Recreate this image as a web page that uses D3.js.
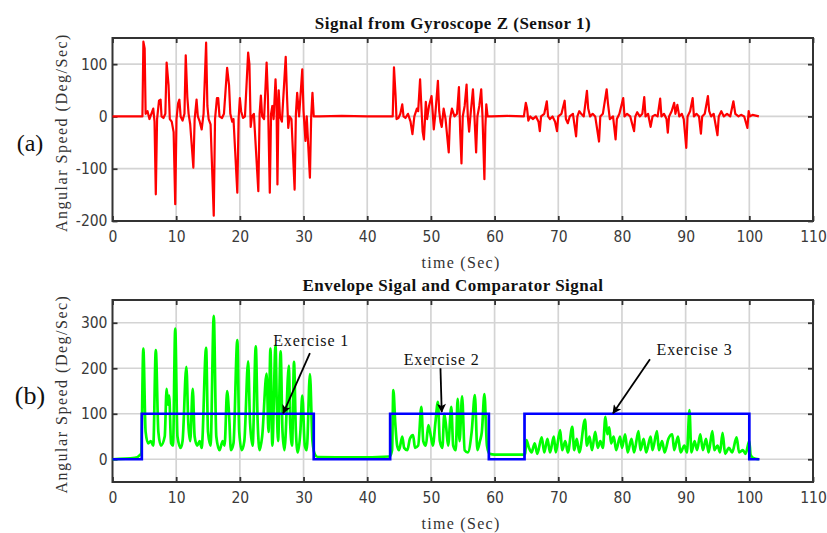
<!DOCTYPE html>
<html>
<head>
<meta charset="utf-8">
<script src="https://cdn.jsdelivr.net/npm/d3@7"></script>
<style>
  body { margin: 0; background: #fff; }
  svg { display: block; }
</style>
</head>
<body>
<svg id="chart" width="827" height="533"></svg>
<script>
// ---- data ---------------------------------------------------------------
const xTicks = [0, 10, 20, 30, 40, 50, 60, 70, 80, 90, 100, 110];
const gyroYTicks = [-200, -100, 0, 100];
const envYTicks = [0, 100, 200, 300];

// Gyroscope Z, sensor 1: [time (s), angular speed (deg/s)]
const gyroExercise1 = [
  [0,0],[4.7,0],[4.85,143],[5.05,130],[5.2,5],[5.5,10],[5.8,-5],[6.1,5],[6.4,15],[6.6,-10],
  [6.8,-149],[7.0,-5],[7.3,30],[7.55,32],[7.7,0],[8.0,-3],[8.3,5],[8.5,103],[8.8,60],[9.0,-5],
  [9.3,-10],[9.6,-30],[9.85,-168],[10.05,-5],[10.3,25],[10.5,32],[10.7,0],[11.0,-8],[11.3,5],
  [11.5,117],[11.75,37],[11.95,5],[12.2,-15],[12.7,-98],[12.9,-5],[13.2,32],[13.4,0],[13.7,-10],
  [14.0,-25],[14.3,5],[14.7,141],[14.9,20],[15.1,-5],[15.4,-15],[15.9,-190],[16.1,-5],[16.4,35],
  [16.6,35],[16.8,0],[17.2,-3],[17.5,5],[18.0,93],[18.3,60],[18.5,5],[18.8,-10],[19.0,-5],
  [19.6,-146],[19.8,-5],[20.0,35],[20.2,10],[20.5,-3],[20.8,0],[21.3,122],[21.5,100],[21.7,-20],
  [21.9,0],[22.2,5],[22.9,-143],[23.1,5],[23.3,40],[23.5,0],[23.8,-5],[24.2,103],[24.4,40],
  [24.7,-146],[24.9,5],[25.1,20],[25.3,-5],[25.6,71],[25.75,30],[25.9,-130],[26.1,50],[26.3,0],
  [26.6,-10],[27.2,114],[27.4,40],[27.6,-22],[27.8,0],[28.1,-5],[28.6,-140],[28.8,5],[29.0,45],
  [29.3,0],[29.8,90],[30.0,10],[30.3,-47],[30.5,0],[31.0,-117],[31.2,0],[31.4,45],[31.6,0],
  [32.5,0],[36,1],[40,0],[44.0,0]
];
const gyroExercise2 = [
  [44.0,0],[44.2,94],[44.45,40],[44.6,-5],[44.9,-3],[45.2,5],[45.5,23],[45.7,0],[46.0,-3],
  [46.4,5],[46.8,-10],[47.1,-34],[47.4,0],[47.8,15],[48.0,10],[48.3,71],[48.5,20],[48.7,-29],
  [48.9,-44],[49.05,-10],[49.2,28],[49.4,-5],[49.7,20],[50.1,39],[50.3,5],[50.45,-25],[50.7,5],
  [51.1,68],[51.3,10],[51.5,-10],[51.7,-20],[52.0,15],[52.3,-5],[52.8,-69],[53.0,-5],[53.3,15],
  [53.7,0],[54.1,5],[54.4,56],[54.6,-30],[54.8,-90],[55.0,0],[55.3,20],[55.6,61],[55.8,0],
  [56.0,-29],[56.2,0],[56.6,52],[56.8,10],[57.1,-69],[57.3,0],[57.6,20],[57.9,52],[58.1,0],
  [58.4,-120],[58.55,-20],[58.7,23],[58.9,0],[59.5,0],[62,1],[64.6,0]
];
const gyroExercise3 = [
  [64.6,0],[64.9,26],[65.1,15],[65.3,-8],[65.6,0],[66.0,-5],[66.5,0],[66.9,-10],[67.1,-28],
  [67.3,0],[67.8,5],[68.2,29],[68.4,0],[68.7,-5],[69.1,0],[69.5,-10],[69.8,-28],[70.0,0],
  [70.5,5],[71.0,30],[71.2,-5],[71.5,-13],[71.8,0],[72.3,5],[72.8,-38],[73.0,0],[73.3,10],
  [73.6,5],[74.0,0],[74.5,49],[74.7,15],[75.0,0],[75.4,5],[75.8,0],[76.4,-48],[76.6,0],[77.0,5],
  [77.6,52],[77.8,25],[78.1,-5],[78.6,0],[79.0,-44],[79.2,-5],[79.6,5],[80.2,35],[80.4,0],
  [80.8,5],[81.3,0],[81.9,-28],[82.1,0],[82.4,8],[82.8,0],[83.2,5],[83.5,37],[83.7,0],[84.1,5],
  [84.5,-20],[84.8,0],[85.2,3],[85.6,0],[86.0,34],[86.2,0],[86.6,5],[87.0,-5],[87.2,-31],
  [87.4,0],[87.8,10],[88.2,26],[88.4,5],[88.7,22],[89.0,0],[89.4,5],[89.7,-5],[90.1,-60],
  [90.3,0],[90.7,10],[91.1,35],[91.3,0],[91.7,5],[92.1,0],[92.4,-33],[92.6,0],[93.0,5],
  [93.5,39],[93.7,10],[94.0,0],[94.4,5],[95.0,-36],[95.2,0],[95.6,10],[96.0,0],[96.5,5],
  [97.0,0],[97.5,29],[97.8,5],[98.3,0],[98.7,3],[99.2,0],[99.7,-22],[99.9,10],[100.1,0],
  [100.5,3],[101.5,0]
];

// Envelope of the rectified signal: [time (s), deg/s]
const envelopeExercise1 = [
  [0,0],[3.5,3],[4.5,12],[4.84,243],[5.2,60],[5.6,35],[6.0,40],[6.4,30],[6.8,240],[7.2,60],
  [7.6,30],[8.2,50],[8.5,155],[8.7,120],[8.9,140],[9.2,35],[9.5,30],[9.85,287],[10.2,50],
  [10.7,25],[11.0,40],[11.6,203],[11.9,80],[12.2,40],[12.6,155],[12.9,50],[13.3,30],[13.7,40],
  [14.0,25],[14.7,245],[15.0,60],[15.4,30],[15.9,315],[16.3,50],[16.8,20],[17.3,40],[17.6,30],
  [18.0,150],[18.3,100],[18.6,20],[19.0,35],[19.6,262],[19.9,60],[20.3,20],[20.7,40],[21.3,215],
  [21.6,80],[22.0,30],[22.5,248],[22.8,80],[23.1,20],[23.5,50],[24.2,188],[24.5,60],[24.8,243],
  [25.1,30],[25.6,250],[25.8,120],[26.0,40],[26.4,237],[26.7,60],[27.0,20],[27.7,206],[27.9,80],
  [28.2,30],[28.5,214],[28.8,60],[29.1,15],[29.5,60],[29.8,140],[30.2,30],[30.5,20],[31.0,187],
  [31.4,40],[31.8,10],[32.2,5],[38,4],[43.5,6]
];
const envelopeExercise2 = [
  [43.5,6],[43.9,20],[44.1,152],[44.4,80],[44.7,30],[45.0,20],[45.5,50],[45.8,25],[46.3,20],
  [46.7,45],[47.2,53],[47.5,25],[48.0,30],[48.5,115],[48.8,40],[49.2,30],[49.6,75],[50.0,50],
  [50.3,30],[50.7,80],[51.1,126],[51.4,40],[51.8,25],[52.1,100],[52.4,70],[52.7,30],[53.2,115],
  [53.5,30],[53.9,20],[54.2,133],[54.5,40],[54.9,138],[55.3,20],[55.8,15],[56.4,60],[56.9,141],
  [57.3,20],[57.7,40],[58.0,60],[58.4,143],[58.8,30],[59.2,12],[60,10],[64.5,10],[64.8,12]
];
const envelopeExercise3 = [
  [64.8,12],[65.0,42],[65.4,25],[65.8,15],[66.3,35],[66.7,12],[67.4,48],[67.8,15],[68.3,45],
  [68.7,15],[69.3,50],[69.6,15],[70.3,64],[70.6,20],[71.1,40],[71.5,15],[72.2,71],[72.5,20],
  [72.9,45],[73.3,15],[74.2,87],[74.5,30],[74.9,50],[75.3,20],[75.8,60],[76.2,25],[76.6,40],
  [77.0,25],[77.4,93],[77.7,55],[78.0,70],[78.3,35],[78.7,50],[79.1,20],[79.7,50],[80.0,25],
  [80.5,55],[80.9,15],[81.5,45],[81.9,15],[82.6,62],[82.9,20],[83.4,45],[83.8,15],[84.5,50],
  [84.8,20],[85.5,62],[85.8,20],[86.3,40],[86.7,15],[87.3,45],[87.9,55],[88.2,20],[88.8,50],
  [89.2,15],[89.8,30],[90.2,15],[90.6,108],[90.9,15],[91.4,40],[91.8,20],[92.3,55],[92.7,20],
  [93.2,45],[93.6,15],[94.2,62],[94.5,20],[95.0,30],[95.4,15],[95.8,58],[96.2,12],[96.8,25],
  [97.3,15],[98.0,48],[98.4,15],[99.0,20],[99.4,12],[100.0,40],[100.2,10],[100.6,3],[101.5,0]
];

// Comparator output: 100 while an exercise is detected, 0 otherwise
const comparatorSteps = [
  [0,0],[4.6,0],[4.6,100],[31.6,100],[31.6,0],[43.6,0],[43.6,100],[59.1,100],[59.1,0],
  [64.7,0],[64.7,100],[100,100],[100,0],[101.6,0]
];

// Exercise callouts, in data units: label anchor, arrow start, arrow tip
const exerciseLabels = ["Exercise 1", "Exercise 2", "Exercise 3"];
const labelAt = [[31.2, 249], [51.7, 207], [91.4, 229]];
const arrowFrom = [[31.0, 233], [51.5, 200], [84.4, 220]];
const arrowTo = [[26.8, 101], [51.7, 104], [78.6, 101]];

// ---- drawing ------------------------------------------------------------
const svg = d3.select("#chart");
const x = d3.scaleLinear().domain([0, 110]).range([112.5, 813]);
const serif = "'Liberation Serif', 'Times New Roman', serif";

const defs = svg.append("defs");
defs.append("marker")
  .attr("id", "arrowhead")
  .attr("viewBox", "0 0 10 10")
  .attr("refX", 9).attr("refY", 5)
  .attr("markerWidth", 12).attr("markerHeight", 9)
  .attr("markerUnits", "userSpaceOnUse")
  .attr("orient", "auto")
  .append("path")
  .attr("d", "M0,0 L10,5 L0,10 L2.5,5 Z")
  .attr("fill", "#000");

function panel(y, yTicks, title, tag, tagY, tagSize) {
  const [x0, x1] = x.range();
  const [yb, yt] = y.range();
  const g = svg.append("g");

  // grid
  g.append("g").selectAll("line").data(xTicks.slice(1, -1)).join("line")
    .attr("x1", d => x(d)).attr("x2", d => x(d))
    .attr("y1", yt).attr("y2", yb)
    .attr("stroke", "#d4d4d4").attr("stroke-width", 1.7);
  g.append("g").selectAll("line").data(yTicks).join("line")
    .attr("x1", x0).attr("x2", x1)
    .attr("y1", d => y(d)).attr("y2", d => y(d))
    .attr("stroke", "#d4d4d4").attr("stroke-width", 1.7);

  // axes with inward ticks on all four sides
  const tickStyle = sel => {
    sel.select(".domain").remove();
    sel.selectAll(".tick line").attr("stroke", "#333").attr("stroke-width", 1.8);
    sel.selectAll(".tick text")
      .attr("font-family", "'DejaVu Sans Condensed', 'DejaVu Sans', sans-serif")
      .attr("font-size", 15.5).attr("fill", "#3a3a3a");
  };
  const plain = d => String(d);
  g.append("g").attr("transform", `translate(0,${yb})`)
    .call(d3.axisBottom(x).tickValues(xTicks).tickSize(-5).tickPadding(10).tickFormat(plain))
    .call(tickStyle);
  g.append("g").attr("transform", `translate(0,${yt})`)
    .call(d3.axisTop(x).tickValues(xTicks).tickSize(-5).tickFormat(""))
    .call(tickStyle);
  g.append("g").attr("transform", `translate(${x0},0)`)
    .call(d3.axisLeft(y).tickValues(yTicks).tickSize(-5).tickPadding(5).tickFormat(plain))
    .call(tickStyle);
  g.append("g").attr("transform", `translate(${x1},0)`)
    .call(d3.axisRight(y).tickValues(yTicks).tickSize(-5).tickFormat(""))
    .call(tickStyle);

  // frame
  g.append("rect")
    .attr("x", x0).attr("y", yt).attr("width", x1 - x0).attr("height", yb - yt)
    .attr("fill", "none").attr("stroke", "#333").attr("stroke-width", 2);

  // title
  g.append("text")
    .attr("x", 453).attr("y", yt - 9)
    .attr("text-anchor", "middle")
    .attr("font-family", serif)
    .attr("font-weight", "bold").attr("font-size", 17)
    .attr("letter-spacing", 0.5)
    .attr("fill", "#111")
    .text(title);

  // x label
  g.append("text")
    .attr("x", 461).attr("y", yb + 47)
    .attr("text-anchor", "middle")
    .attr("font-family", serif)
    .attr("font-size", 16).attr("fill", "#333")
    .attr("letter-spacing", 1.3)
    .text("time (Sec)");

  // y label
  g.append("text")
    .attr("transform", `translate(67,${(yt + yb) / 2 + 3}) rotate(-90)`)
    .attr("text-anchor", "middle")
    .attr("font-family", serif)
    .attr("font-size", 16).attr("fill", "#333")
    .attr("letter-spacing", 1.5)
    .text("Angular Speed (Deg/Sec)");

  // panel tag
  g.append("text")
    .attr("x", 30).attr("y", tagY)
    .attr("text-anchor", "middle")
    .attr("font-family", serif)
    .attr("font-size", tagSize).attr("fill", "#111")
    .text(tag);

  return g;
}

// (a) raw gyroscope signal
const yGyro = d3.scaleLinear().domain([-200, 150]).range([221, 38]);
const gA = panel(yGyro, gyroYTicks, "Signal from Gyroscope Z (Sensor 1)", "(a)", 151, 24);
const gyroLine = d3.line().x(d => x(d[0])).y(d => yGyro(d[1]));
gA.append("path")
  .datum([...gyroExercise1, ...gyroExercise2.slice(1), ...gyroExercise3.slice(1)])
  .attr("d", gyroLine)
  .attr("fill", "none").attr("stroke", "#ff0000").attr("stroke-width", 2.2)
  .attr("stroke-linejoin", "round");

// (b) envelope and comparator
const yEnv = d3.scaleLinear().domain([-50, 350]).range([482, 300]);
const gB = panel(yEnv, envYTicks, "Envelope Sigal and Comparator Signal", "(b)", 404, 26);
const envLine = d3.line().x(d => x(d[0])).y(d => yEnv(d[1]));
gB.append("path")
  .datum([...envelopeExercise1, ...envelopeExercise2.slice(1), ...envelopeExercise3.slice(1)])
  .attr("d", envLine.curve(d3.curveMonotoneX))
  .attr("fill", "none").attr("stroke", "#00ff00").attr("stroke-width", 2.7)
  .attr("stroke-linejoin", "round");
gB.append("path")
  .datum(comparatorSteps)
  .attr("d", d3.line().x(d => x(d[0])).y(d => yEnv(d[1])))
  .attr("fill", "none").attr("stroke", "#0000ff").attr("stroke-width", 2.7);

// callouts
exerciseLabels.forEach((label, i) => {
  gB.append("line")
    .attr("x1", x(arrowFrom[i][0])).attr("y1", yEnv(arrowFrom[i][1]))
    .attr("x2", x(arrowTo[i][0])).attr("y2", yEnv(arrowTo[i][1]))
    .attr("stroke", "#000").attr("stroke-width", 1.8)
    .attr("marker-end", "url(#arrowhead)");
  gB.append("text")
    .attr("x", x(labelAt[i][0])).attr("y", yEnv(labelAt[i][1]))
    .attr("text-anchor", "middle")
    .attr("font-family", serif)
    .attr("font-size", 16).attr("fill", "#111")
    .attr("letter-spacing", 0.9)
    .text(label);
});
</script>
</body>
</html>
